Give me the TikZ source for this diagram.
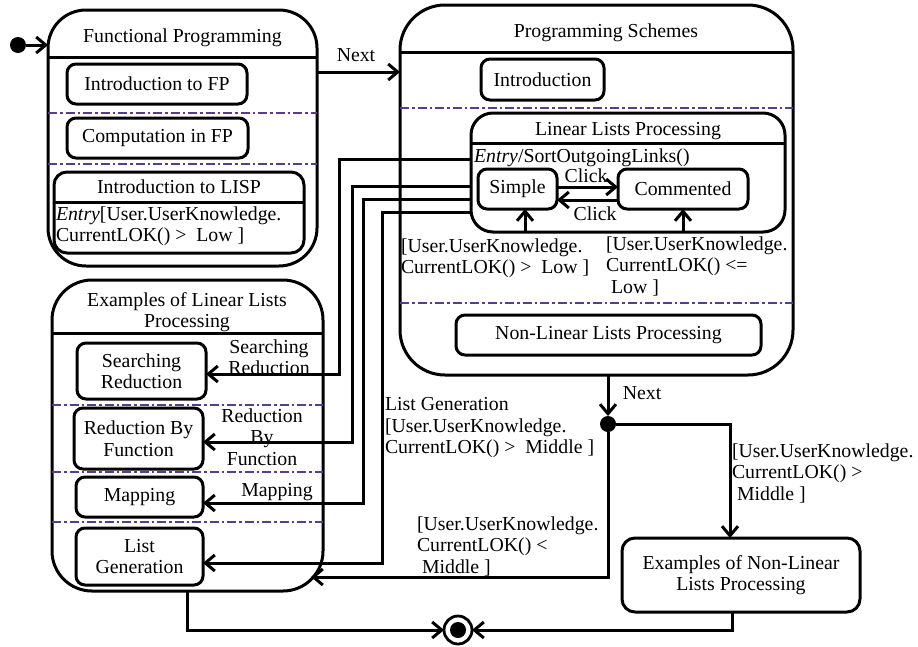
\documentclass[tikz,border=0pt]{standalone}
\usepackage{fontspec}
\setmainfont{Liberation Serif}
\usetikzlibrary{arrows.meta}
\definecolor{ddcol}{RGB}{90,60,140}
\begin{document}
\begin{tikzpicture}[x=1pt,y=-1pt,
  every node/.style={font=\fontsize{19.8}{21.5}\selectfont, inner sep=0pt, outer sep=0pt},
  lw/.style={line width=3pt},
  comp/.style={draw, line width=3pt},
  sbox/.style={draw, line width=3pt, rounded corners=9pt, align=center},
  dd/.style={draw=ddcol, line width=1.4pt, dash pattern=on 9pt off 3pt on 2.5pt off 3pt},
  arr/.style={line width=3pt, -{Straight Barb[length=9.5pt,width=16pt,line width=3pt]}},
  lbl/.style={align=left, anchor=west},
  dot/.style={circle, fill, minimum size=16pt}
]
\useasboundingbox (0,0) rectangle (918,646);

% ---------- Functional Programming ----------
\node[comp, rounded corners=38pt, minimum width=269, minimum height=256] (fp) at (182.5,138) {};
\draw[lw] (fp.west |- 0,57) -- (fp.east |- 0,57);
\node (fpt) at (182.5,38) {Functional Programming};
\node[sbox, minimum width=180, minimum height=40] (ifp) at (157,84) {Introduction to FP};
\draw[dd] (fp.west |- 0,113) -- (fp.east |- 0,113);
\node[sbox, minimum width=181, minimum height=40] (cfp) at (157.5,138) {Computation in FP};
\draw[dd] (fp.west |- 0,164) -- (fp.east |- 0,164);
\node[comp, rounded corners=13pt, minimum width=250, minimum height=81] (lisp) at (179,212.5) {};
\draw[lw] (lisp.west |- 0,202) -- (lisp.east |- 0,202);
\node (lispt) at (179,187) {Introduction to LISP};
\node[lbl] (lispe) at (56,226) {\textit{Entry}[User.UserKnowledge.\\{}CurrentLOK() >~~Low ]};

% initial state
\node[dot] (init) at (18,45) {};
\draw[arr] (init) -- (init -| fp.west);

% ---------- Programming Schemes ----------
\node[comp, rounded corners=45pt, minimum width=393, minimum height=370] (ps) at (596.5,190) {};
\draw[lw] (ps.west |- 0,52) -- (ps.east |- 0,52);
\node (pst) at (606,33) {Programming Schemes};
\node[sbox, minimum width=123, minimum height=41] (intro) at (542.5,79.5) {Introduction};
\draw[dd] (ps.west |- 0,108) -- (ps.east |- 0,108);

\node[comp, rounded corners=22pt, minimum width=314, minimum height=119] (llp) at (628,172.5) {};
\draw[lw] (llp.west |- 0,143) -- (llp.east |- 0,143);
\node (llpt) at (628,131) {Linear Lists Processing};
\node[anchor=west] (llpe) at (474,158) {\textit{Entry}/SortOutgoingLinks()};
\node[sbox, minimum width=79, minimum height=40] (simple) at (517.5,189) {Simple};
\node[sbox, minimum width=130, minimum height=40] (comm) at (683,189) {Commented};
\draw[arr] (simple.east |- 0,187) -- (comm.west |- 0,187);
\draw[arr] (comm.west |- 0,200) -- (simple.east |- 0,200);
\node (click1) at (586,176) {Click};
\node (click2) at (595,214) {Click};
\draw[arr] (llp.south -| 525,0) -- (simple.south -| 525,0);
\draw[arr] (llp.south -| comm) -- (comm.south);
\node[lbl] (g1) at (401,258) {{}[User.UserKnowledge.\\{}CurrentLOK() >~~Low ]};
\node[lbl] (g2) at (606,266) {{}[User.UserKnowledge.\\{}CurrentLOK() <=\\{}\hspace{5pt}Low ]};
\draw[dd] (ps.west |- 0,303) -- (ps.east |- 0,303);
\node[sbox, minimum width=305, minimum height=40] (nllp) at (608.5,335) {Non-Linear Lists Processing};

% Next FP -> PS
\draw[arr] (fp.east |- 0,72) -- (ps.west |- 0,72);
\node (next1) at (356,55) {Next};

% ---------- Examples of Linear Lists Processing ----------
\node[comp, rounded corners=40pt, minimum width=271, minimum height=311] (ell) at (187.5,435.5) {};
\draw[lw] (ell.west |- 0,333) -- (ell.east |- 0,333);
\node[align=center] (ellt) at (187,312) {Examples of Linear Lists\\{}Processing};
\node[sbox, minimum width=129, minimum height=56] (sr) at (141.5,371) {Searching\\{}Reduction};
\draw[dd] (ell.west |- 0,405) -- (ell.east |- 0,405);
\node[sbox, minimum width=129, minimum height=61] (rbf) at (138.5,438.5) {Reduction By\\{}Function};
\draw[dd] (ell.west |- 0,472) -- (ell.east |- 0,472);
\node[sbox, minimum width=127, minimum height=40] (map) at (139.5,497) {Mapping};
\draw[dd] (ell.west |- 0,522) -- (ell.east |- 0,522);
\node[sbox, minimum width=127, minimum height=57] (lg) at (139.5,556.5) {List\\{}Generation};

% connectors LLP -> examples
\draw[arr] (llp.west |- 0,159) -- (339,159) |- (sr.east |- 0,374);
\draw[arr] (llp.west |- 0,186) -- (352,186) |- (rbf.east |- 0,442);
\draw[arr] (llp.west |- 0,199) -- (363,199) |- (map.east |- 0,503);
\draw[arr] (llp.west |- 0,212) -- (382,212) |- (lg.east |- 0,563);
\node[align=center] (lsr) at (269,357) {Searching\\{}Reduction};
\node[align=center] (lrbf) at (262,437) {Reduction\\{}By\\{}Function};
\node (lmap) at (277,492) {Mapping};
\node[lbl] (llg) at (385,428) {List Generation\\{}[User.UserKnowledge.\\{}CurrentLOK() >~~Middle ]};

% ---------- junction and non-linear examples ----------
\node[dot] (jn) at (608,424) {};
\draw[arr] (ps.south -| jn) -- (jn);
\node (next2) at (642,393) {Next};
\node[sbox, rounded corners=13pt, minimum width=238, minimum height=74] (enl) at (741,575) {Examples of Non-Linear\\{}Lists Processing};
\draw[arr] (jn) -| ([xshift=-11pt]enl.north);
\node[lbl] (g3) at (732,473) {{}[User.UserKnowledge.\\{}CurrentLOK() >\\{}\hspace{5pt}Middle ]};
\coordinate (ellc) at (311,577);
\draw[arr] (jn) |- (ellc);
\node[lbl] (g4) at (417,546) {{}[User.UserKnowledge.\\{}CurrentLOK() <\\{}\hspace{5pt}Middle ]};

% final state
\node[circle, draw, line width=2.8pt, minimum size=28pt, fill=white] (fin) at (458,630) {};
\node[circle, fill, minimum size=16pt] (fin2) at (fin) {};
\draw[arr] (ell.south) |- (fin);
\draw[arr] ([xshift=-9pt]enl.south) |- (fin);
\end{tikzpicture}
\end{document}
